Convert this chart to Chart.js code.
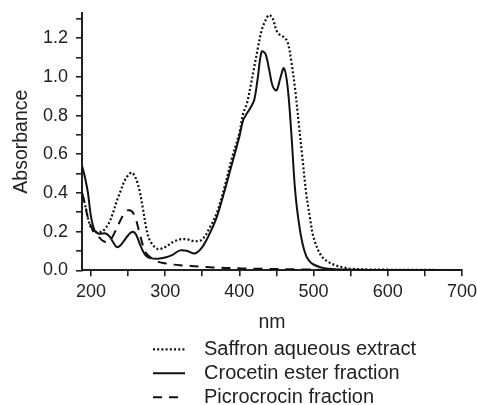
<!DOCTYPE html>
<html>
<head>
<meta charset="utf-8">
<script src="https://cdn.jsdelivr.net/npm/chart.js@4/dist/chart.umd.min.js"></script>
<style>
  html, body { margin: 0; padding: 0; background: #fff; }
  #wrap { width: 477px; height: 405px; }
</style>
</head>
<body>
<div id="wrap"><canvas id="spectra"></canvas></div>
<script>
// wavelengths (nm) shared by the three spectra
var nm = [188, 192, 196, 200, 205, 210, 215, 220, 225, 230, 235, 240, 245, 250, 255, 260, 265, 270, 275, 280,
  290, 300, 310, 320, 330, 340, 350, 360, 370, 380, 390, 400, 405, 410, 415, 420, 425, 430, 435, 440,
  445, 450, 455, 460, 465, 470, 475, 480, 485, 490, 495, 500, 510, 520, 530, 540, 550, 575, 600, 650, 700];

var saffron = [0.40, 0.34, 0.27, 0.22, 0.20, 0.20, 0.20, 0.22, 0.25, 0.30, 0.36, 0.41, 0.46, 0.49, 0.505, 0.48, 0.42, 0.32, 0.21, 0.15,
  0.11, 0.12, 0.145, 0.16, 0.16, 0.15, 0.16, 0.22, 0.30, 0.43, 0.58, 0.71, 0.81, 0.86, 0.95, 1.05, 1.15, 1.24, 1.29, 1.32,
  1.30, 1.24, 1.215, 1.205, 1.18, 1.08, 0.94, 0.76, 0.58, 0.40, 0.275, 0.17, 0.077, 0.043, 0.025, 0.015, 0.008, 0.004, 0.003, 0.002, 0.001];

var crocetin = [0.54, 0.48, 0.40, 0.28, 0.205, 0.19, 0.19, 0.19, 0.175, 0.145, 0.12, 0.13, 0.155, 0.18, 0.198, 0.19, 0.145, 0.10, 0.072, 0.063,
  0.06, 0.066, 0.08, 0.103, 0.10, 0.087, 0.12, 0.19, 0.28, 0.41, 0.55, 0.69, 0.775, 0.81, 0.84, 0.88, 1.0, 1.13, 1.12, 1.04,
  0.95, 0.93, 0.99, 1.045, 0.95, 0.71, 0.42, 0.25, 0.14, 0.075, 0.045, 0.03, 0.015, 0.008, 0.005, 0.004, 0.003, 0.002, 0.001, 0.001, 0];

var picrocrocin = [0.40, 0.34, 0.27, 0.23, 0.19, 0.175, 0.155, 0.146, 0.153, 0.18, 0.22, 0.26, 0.295, 0.31, 0.305, 0.27, 0.20, 0.13, 0.085, 0.068,
  0.045, 0.036, 0.03, 0.026, 0.024, 0.021, 0.018, 0.016, 0.014, 0.012, 0.011, 0.010, 0.0095, 0.009, 0.0088, 0.0085, 0.008, 0.008, 0.0075, 0.007,
  0.007, 0.0065, 0.006, 0.006, 0.0058, 0.0055, 0.005, 0.005, 0.0045, 0.004, 0.004, 0.004, 0.003, 0.003, 0.002, 0.002, 0.002, 0.001, 0.001, 0, 0];

var seriesNames = ["Saffron aqueous extract", "Crocetin ester fraction", "Picrocrocin fraction"];

function pts(vals) {
  return nm.map(function (x, i) { return { x: x, y: vals[i] }; });
}

Chart.defaults.font.family = "'Liberation Sans', Arial, Helvetica, sans-serif";
Chart.defaults.color = "#222";

// legend drawn under the axis title, one item per row
var rowLegend = {
  id: "rowLegend",
  afterDraw: function (chart) {
    var ctx = chart.ctx;
    var x0 = chart.chartArea.left + 71;
    var y0 = chart.chartArea.bottom + 79;
    ctx.save();
    ctx.font = "20px 'Liberation Sans', Arial, sans-serif";
    ctx.textBaseline = "middle";
    chart.data.datasets.forEach(function (ds, i) {
      var y = y0 + i * 24;
      ctx.strokeStyle = ds.borderColor;
      ctx.lineWidth = ds.borderWidth;
      ctx.setLineDash(ds.borderDash || []);
      ctx.beginPath();
      ctx.moveTo(x0, y);
      ctx.lineTo(x0 + 32, y);
      ctx.stroke();
      ctx.setLineDash([]);
      ctx.fillStyle = "#222";
      ctx.fillText(ds.label, x0 + 51, y);
    });
    ctx.restore();
  }
};

var ctx = document.getElementById("spectra").getContext("2d");

new Chart(ctx, {
  type: "line",
  data: {
    datasets: [
      {
        label: seriesNames[0],
        data: pts(saffron),
        borderColor: "#111",
        borderWidth: 2.2,
        borderDash: [2, 2.2],
        pointRadius: 0,
        tension: 0.35,
        fill: false
      },
      {
        label: seriesNames[1],
        data: pts(crocetin),
        borderColor: "#111",
        borderWidth: 2,
        pointRadius: 0,
        tension: 0.35,
        fill: false
      },
      {
        label: seriesNames[2],
        data: pts(picrocrocin),
        borderColor: "#111",
        borderWidth: 2,
        borderDash: [9, 7],
        pointRadius: 0,
        tension: 0.35,
        fill: false
      }
    ]
  },
  options: {
    responsive: true,
    maintainAspectRatio: false,
    animation: false,
    layout: { padding: { top: 13, right: 0, left: 4, bottom: 71 } },
    plugins: {
      legend: { display: false },
      tooltip: { enabled: false }
    },
    scales: {
      x: {
        type: "linear",
        min: 188,
        max: 700,
        afterFit: function (s) { s.paddingRight = 15; },
        border: { color: "#222", width: 2 },
        grid: { drawOnChartArea: false, drawTicks: true, tickLength: 6, color: "#222", lineWidth: 1.6 },
        ticks: {
          stepSize: 50,
          includeBounds: false,
          autoSkip: false,
          maxRotation: 0,
          padding: 5,
          font: { size: 18 },
          callback: function (v) { return v % 100 === 0 ? String(v) : ""; }
        },
        title: { display: true, text: "nm", font: { size: 19.5 }, padding: { top: 2.7, bottom: 0 } }
      },
      y: {
        min: 0,
        max: 1.33,
        afterFit: function (s) { s.paddingTop = 0; },
        border: { color: "#222", width: 2 },
        grid: { drawOnChartArea: false, drawTicks: true, tickLength: 6, color: "#222", lineWidth: 1.6 },
        ticks: {
          stepSize: 0.1,
          includeBounds: false,
          autoSkip: false,
          padding: 8,
          font: { size: 18 },
          callback: function (v) { return Math.round(v * 10) % 2 === 0 ? v.toFixed(1) : ""; }
        },
        title: { display: true, text: "Absorbance", font: { size: 19.5 }, padding: { top: 6, bottom: 1.6 } }
      }
    }
  },
  plugins: [rowLegend]
});
</script>
</body>
</html>
